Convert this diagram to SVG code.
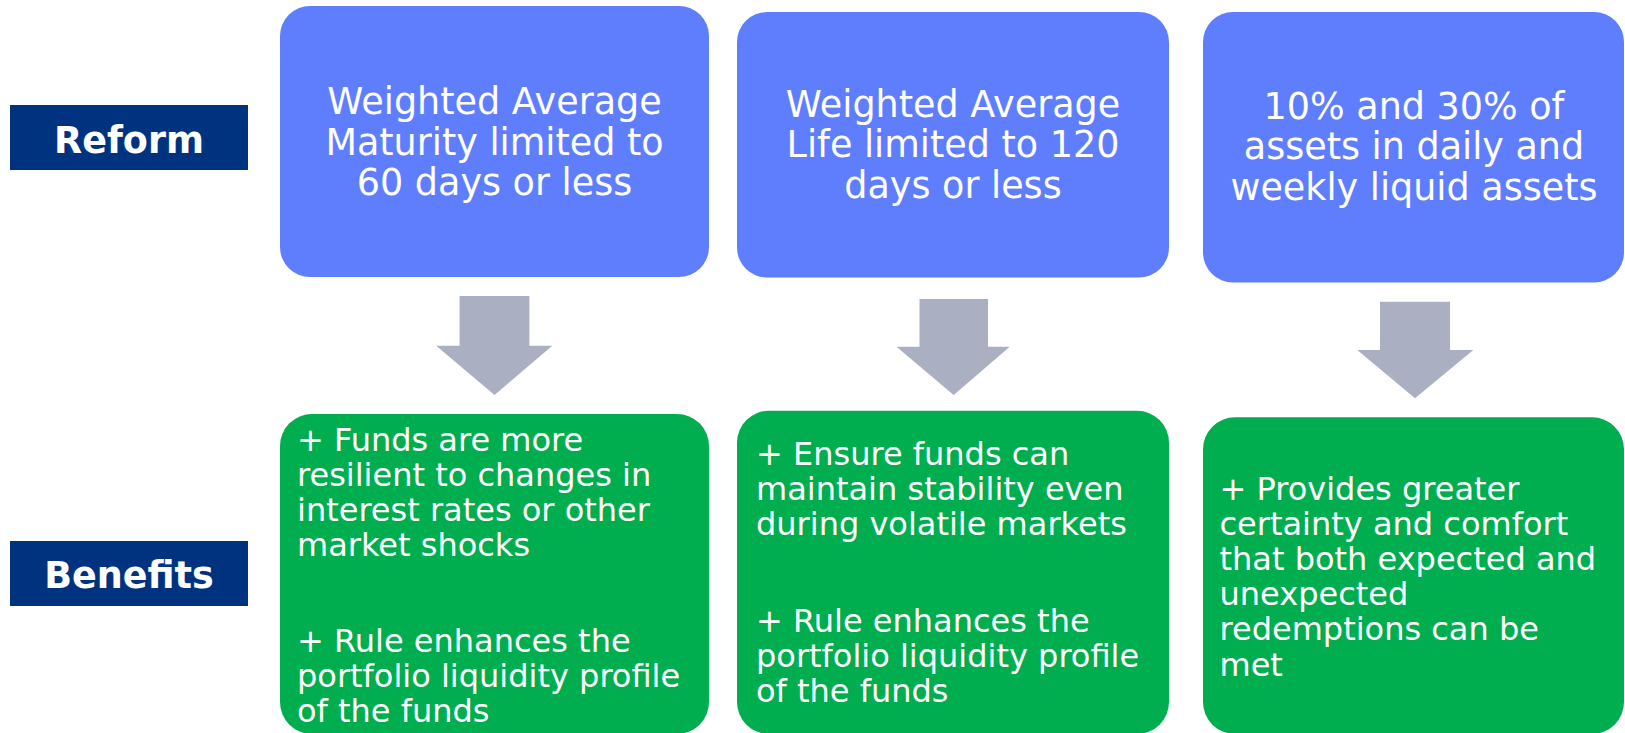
<svg xmlns="http://www.w3.org/2000/svg" width="1625" height="733" viewBox="0 0 1625 733">
  <style>
    .label { fill: #00337F; }
    .label-text { font-family: "DejaVu Sans", Verdana, sans-serif; font-weight: bold; font-size: 36.5px; fill: #ffffff; text-anchor: middle; }
    .reform { fill: #5F7EFE; }
    .reform-text { font-family: "DejaVu Sans", Verdana, sans-serif; font-size: 36.5px; fill: #ffffff; text-anchor: middle; }
    .benefit { fill: #00AE4F; }
    .benefit-text { font-family: "DejaVu Sans", Verdana, sans-serif; font-size: 32px; fill: #ffffff; }
    .arrow { fill: #ABAFC2; }
  </style>

  <rect width="1625" height="733" fill="#ffffff"/>

  <!-- Row labels -->
  <g id="label-reform">
    <rect class="label" x="10" y="105" width="238" height="65"/>
    <text class="label-text" x="129" y="152.5">Reform</text>
  </g>
  <g id="label-benefits">
    <rect class="label" x="10" y="541" width="238" height="65"/>
    <text class="label-text" x="129" y="588">Benefits</text>
  </g>

  <!-- Reform boxes -->
  <g id="reform-wam">
    <rect class="reform" x="280" y="6" width="429" height="271" rx="30" ry="30"/>
    <text class="reform-text" x="494.5" y="114">Weighted Average</text>
    <text class="reform-text" x="494.5" y="154.5">Maturity limited to</text>
    <text class="reform-text" x="494.5" y="195">60 days or less</text>
  </g>
  <g id="reform-wal">
    <rect class="reform" x="737" y="12" width="432" height="265.5" rx="30" ry="30"/>
    <text class="reform-text" x="953" y="116.5">Weighted Average</text>
    <text class="reform-text" x="953" y="157">Life limited to 120</text>
    <text class="reform-text" x="953" y="197.5">days or less</text>
  </g>
  <g id="reform-liquidity">
    <rect class="reform" x="1203" y="12" width="421" height="270.5" rx="30" ry="30"/>
    <text class="reform-text" x="1414" y="118.5">10% and 30% of</text>
    <text class="reform-text" x="1414" y="159">assets in daily and</text>
    <text class="reform-text" x="1414" y="199.5">weekly liquid assets</text>
  </g>

  <!-- Arrows from reforms to benefits -->
  <g id="connectors">
    <polygon class="arrow" points="459.6,296 529.4,296 529.4,345.7 552.3,345.7 494.5,395 436.2,345.7 459.6,345.7"/>
    <polygon class="arrow" points="919.5,299 988,299 988,346.7 1009.7,346.7 953.7,395 896.5,346.7 919.5,346.7"/>
    <polygon class="arrow" points="1380,301.7 1450,301.7 1450,350 1473.3,350 1415,398.3 1357.3,350 1380,350"/>
  </g>

  <!-- Benefit boxes -->
  <g id="benefit-wam">
    <rect class="benefit" x="280" y="414" width="429" height="320" rx="32" ry="32"/>
    <text class="benefit-text" x="297" y="451">+ Funds are more</text>
    <text class="benefit-text" x="297" y="486">resilient to changes in</text>
    <text class="benefit-text" x="297" y="521">interest rates or other</text>
    <text class="benefit-text" x="297" y="556">market shocks</text>
    <text class="benefit-text" x="297" y="652">+ Rule enhances the</text>
    <text class="benefit-text" x="297" y="687">portfolio liquidity profile</text>
    <text class="benefit-text" x="297" y="722">of the funds</text>
  </g>
  <g id="benefit-wal">
    <rect class="benefit" x="737" y="410.7" width="432" height="323.3" rx="32" ry="32"/>
    <text class="benefit-text" x="756" y="465">+ Ensure funds can</text>
    <text class="benefit-text" x="756" y="500">maintain stability even</text>
    <text class="benefit-text" x="756" y="535">during volatile markets</text>
    <text class="benefit-text" x="756" y="632">+ Rule enhances the</text>
    <text class="benefit-text" x="756" y="667">portfolio liquidity profile</text>
    <text class="benefit-text" x="756" y="702">of the funds</text>
  </g>
  <g id="benefit-liquidity">
    <rect class="benefit" x="1203" y="417.3" width="421" height="316.7" rx="32" ry="32"/>
    <text class="benefit-text" x="1219.5" y="500">+ Provides greater</text>
    <text class="benefit-text" x="1219.5" y="535">certainty and comfort</text>
    <text class="benefit-text" x="1219.5" y="570">that both expected and</text>
    <text class="benefit-text" x="1219.5" y="605">unexpected</text>
    <text class="benefit-text" x="1219.5" y="640">redemptions can be</text>
    <text class="benefit-text" x="1219.5" y="675.5">met</text>
  </g>
</svg>
